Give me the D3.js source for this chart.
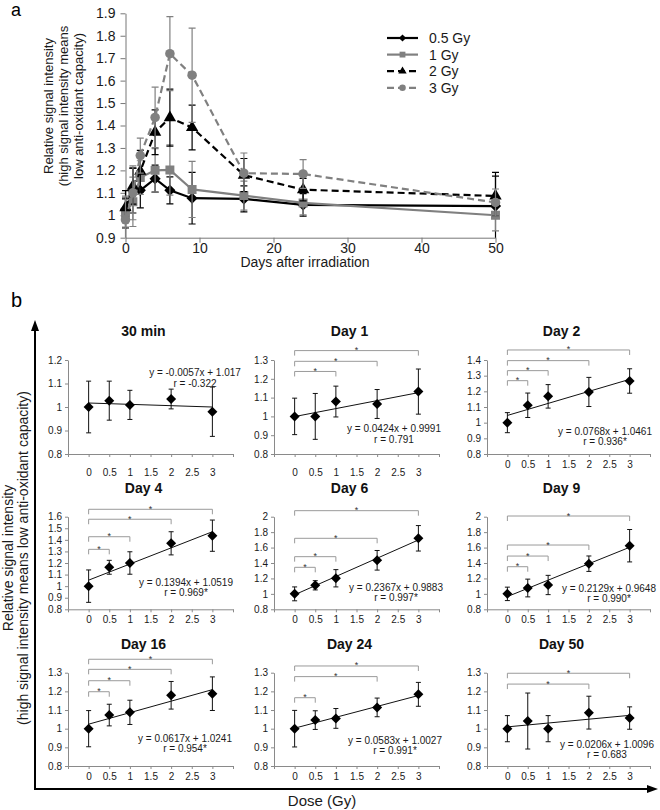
<!DOCTYPE html>
<html><head><meta charset="utf-8">
<script src="https://cdn.jsdelivr.net/npm/d3@7"></script>
<style>body{margin:0;background:#fff} svg{display:block}</style>
</head><body>
<svg id="c" width="660" height="810"></svg>
<script>
// ---------------- DATA ----------------
const timepoints = ["30 min","Day 1","Day 2","Day 4","Day 6","Day 9","Day 16","Day 24","Day 50"];
const daysAfter = [0,1,2,4,6,9,16,24,50];
const doses = [0,0.5,1,2,3];
const doseTickLabels = [0,0.5,1,1.5,2,2.5,3];
const seriesNames = ["0.5 Gy","1 Gy","2 Gy","3 Gy"];
// mean relative signal intensity [timepoint][dose]  (panel b)
const meanValues = [
  [1.0, 1.027, 1.009, 1.034, 0.98],
  [1.0, 1.0, 1.079, 1.066, 1.132],
  [1.0, 1.111, 1.168, 1.196, 1.266],
  [1.0, 1.163, 1.200, 1.370, 1.436],
  [1.0, 1.111, 1.202, 1.435, 1.72],
  [1.0, 1.076, 1.115, 1.391, 1.624],
  [1.0, 1.073, 1.0875, 1.179, 1.1875],
  [1.0, 1.046, 1.055, 1.114, 1.184],
  [1.0, 1.041, 1.0, 1.086, 1.057]
];
const errValues = [
  [0.11, 0.083, 0.062, 0.042, 0.105],
  [0.097, 0.122, 0.082, 0.077, 0.12],
  [0.064, 0.078, 0.075, 0.093, 0.078],
  [0.14, 0.06, 0.097, 0.10, 0.135],
  [0.09, 0.06, 0.112, 0.127, 0.165],
  [0.087, 0.115, 0.125, 0.10, 0.21],
  [0.097, 0.058, 0.065, 0.074, 0.09],
  [0.098, 0.05, 0.053, 0.05, 0.064],
  [0.07, 0.15, 0.07, 0.088, 0.06]
];
// panel a series (days 0,1,2,4,6,9,16,24,50)
const aMean05 = [1.027, 1.11, 1.111, 1.163, 1.111, 1.076, 1.073, 1.046, 1.041];
const aMean1  = [1.009, 1.06, 1.168, 1.200, 1.202, 1.115, 1.0875, 1.055, 1.0];
const aMean2  = [1.034, 1.13, 1.196, 1.370, 1.435, 1.391, 1.179, 1.114, 1.086];
const aMean3  = [0.98, 1.10, 1.266, 1.436, 1.72, 1.624, 1.1875, 1.184, 1.057];
const aErr05 = [0.083, 0.10, 0.078, 0.06, 0.06, 0.115, 0.058, 0.05, 0.15];
const aErr1  = [0.062, 0.11, 0.075, 0.097, 0.112, 0.125, 0.065, 0.053, 0.07];
const aErr2  = [0.042, 0.08, 0.093, 0.10, 0.127, 0.10, 0.074, 0.05, 0.088];
const aErr3  = [0.105, 0.12, 0.078, 0.135, 0.165, 0.21, 0.09, 0.064, 0.06];
const slopes = [-0.0057, 0.0424, 0.0768, 0.1394, 0.2367, 0.2129, 0.0617, 0.0583, 0.0206];
const intercepts = [1.017, 0.9991, 1.0461, 1.0519, 0.9883, 0.9648, 1.0241, 1.0027, 1.0096];
const rLabels = ["-0.322","0.791","0.936*","0.969*","0.997*","0.990*","0.954*","0.991*","0.683"];
// significance brackets [fromDose, toDose, level]
const brackets = [
  [],
  [[0,1,1.239],[0,2,1.293],[0,3,1.35]],
  [[0,0.5,1.268],[0,1,1.332],[0,2,1.396],[0,3,1.464]],
  [[0,0.5,1.318],[0,1,1.427],[0,2,1.578],[0,3,1.664]],
  [[0,0.5,1.344],[0,1,1.482],[0,2,1.72],[0,3,2.078]],
  [[0,0.5,1.352],[0,1,1.49],[0,2,1.633],[0,3,2.009]],
  [[0,0.5,1.198],[0,1,1.257],[0,2,1.318],[0,3,1.372]],
  [[0,0.5,1.166],[0,2,1.279],[0,3,1.336]],
  [[0,2,1.239],[0,3,1.297]]
];
const yMaxValues = [1.2,1.3,1.4,1.6,2,2,1.3,1.3,1.3];
const yStepValues = [0.1,0.1,0.1,0.1,0.2,0.2,0.1,0.1,0.1];
const aYTicks = [0.9,1,1.1,1.2,1.3,1.4,1.5,1.6,1.7,1.8,1.9];
const aXTicks = [0,10,20,30,40,50];

// ---------------- LAYOUT ----------------
const FONT = '"Liberation Sans", Arial, Helvetica, sans-serif';
const svg = d3.select("#c").attr("font-family", FONT);
const GRAY = "#808080";
const fmt = v => String(Math.round(v*10)/10);

function styleAxis(g, fs, col) {
  g.selectAll("path.domain").attr("stroke", col).attr("stroke-width", 1);
  g.selectAll(".tick line").attr("stroke", col);
  g.selectAll(".tick text").attr("fill", "#1a1a1a").attr("font-size", fs).attr("font-family", FONT);
}
function sym(shape, size) {
  const t = shape === "diamond" || shape === "square" ? d3.symbolSquare :
            shape === "triangle" ? d3.symbolTriangle : d3.symbolCircle;
  return d3.symbol().type(t).size(size)();
}

// ---------------- PANEL a ----------------
svg.append("text").attr("x", 11).attr("y", 16).attr("font-size", 18).text("a");
const ax = d3.scaleLinear().domain([0,50]).range([125.5,495.5]);
const ay = d3.scaleLinear().domain([0.9,1.9]).range([237.7,13.3]);
const gA = svg.append("g");
const gxA = gA.append("g").attr("transform", `translate(0,${ay(0.9)})`)
  .call(d3.axisBottom(ax).tickValues(aXTicks).tickSize(5).tickSizeOuter(0).tickPadding(0));
styleAxis(gxA, 14, "#777");
const gyA = gA.append("g").attr("transform", `translate(${ax(0)},0)`)
  .call(d3.axisLeft(ay).tickValues(aYTicks).tickFormat(fmt).tickSize(5).tickSizeOuter(0).tickPadding(5));
styleAxis(gyA, 14, "#777");
gA.append("text").attr("x", 305).attr("y", 267).attr("text-anchor","middle").attr("font-size",14)
  .attr("fill","#1a1a1a").text("Days after irradiation");
const aTitle = ["Relative signal intensity","(high signal intensity means","low anti-oxidant capacity)"];
aTitle.forEach((t,i) => {
  gA.append("text").attr("transform", `translate(${52.6+15*i},106) rotate(-90)`)
    .attr("text-anchor","middle").attr("font-size",13).attr("fill","#1a1a1a").text(t);
});
svg.append("clipPath").attr("id","clipA").append("rect")
  .attr("x", 110).attr("y", 0).attr("width", 400).attr("height", ay(0.9));
const seriesStyle = [
  {mean:aMean05, err:aErr05, color:"#000", dash:null, shape:"diamond", size:62, lsize:26},
  {mean:aMean1, err:aErr1, color:GRAY, dash:null, shape:"square", size:80, lsize:34},
  {mean:aMean2, err:aErr2, color:"#000", dash:"7,4", shape:"triangle", size:66, lsize:30},
  {mean:aMean3, err:aErr3, color:GRAY, dash:"7,4", shape:"circle", size:72, lsize:34}
];
const plotA = gA.append("g").attr("clip-path","url(#clipA)");
seriesNames.forEach((name, si) => {
  const st = seriesStyle[si];
  const pts = daysAfter.map((d,t) => ({x:d, y:st.mean[t], e:st.err[t]}));
  const g = plotA.append("g");
  pts.forEach(p => {
    g.append("line").attr("x1", ax(p.x)).attr("x2", ax(p.x)).attr("y1", ay(p.y-p.e)).attr("y2", ay(p.y+p.e))
      .attr("stroke", st.color).attr("stroke-width", 1.2);
    [p.y-p.e, p.y+p.e].forEach(v => g.append("line").attr("x1", ax(p.x)-3.5).attr("x2", ax(p.x)+3.5)
      .attr("y1", ay(v)).attr("y2", ay(v)).attr("stroke", st.color).attr("stroke-width", 1.2));
  });
  g.append("path").datum(pts).attr("fill","none").attr("stroke", st.color).attr("stroke-width", 2.2)
    .attr("stroke-dasharray", st.dash).attr("d", d3.line().x(p=>ax(p.x)).y(p=>ay(p.y)));
  pts.forEach(p => {
    g.append("path").attr("d", sym(st.shape, st.size))
      .attr("transform", `translate(${ax(p.x)},${ay(p.y)})${st.shape==="diamond"?" rotate(45)":""}`)
      .attr("fill", st.color);
  });
  // legend
  const ly = 38 + 16.6*si;
  gA.append("line").attr("x1",387).attr("x2",418).attr("y1",ly).attr("y2",ly)
    .attr("stroke", st.color).attr("stroke-width", 2.2).attr("stroke-dasharray", st.dash);
  gA.append("path").attr("d", sym(st.shape, st.lsize))
    .attr("transform", `translate(402.5,${ly})${st.shape==="diamond"?" rotate(45)":""}`).attr("fill", st.color);
  gA.append("text").attr("x",429).attr("y",ly+5).attr("font-size",14).attr("fill","#1a1a1a").text(name);
});

// ---------------- PANEL b ----------------
svg.append("text").attr("x", 11).attr("y", 307).attr("font-size", 20).text("b");
// big arrows
svg.append("line").attr("x1",35).attr("x2",35).attr("y1",789).attr("y2",328).attr("stroke","#000").attr("stroke-width",2);
svg.append("path").attr("d","M35,320 L31,331 L39,331 Z").attr("fill","#000");
svg.append("line").attr("x1",34).attr("x2",650).attr("y1",789).attr("y2",789).attr("stroke","#000").attr("stroke-width",2);
svg.append("path").attr("d","M658,789 L647,785 L647,793 Z").attr("fill","#000");
svg.append("text").attr("transform","translate(13,558) rotate(-90)").attr("text-anchor","middle")
  .attr("font-size",14).attr("fill","#1a1a1a").text("Relative signal intensity");
svg.append("text").attr("transform","translate(28,558) rotate(-90)").attr("text-anchor","middle")
  .attr("font-size",14).attr("fill","#1a1a1a").text("(high signal intensity means low anti-oxidant capacity)");
svg.append("text").attr("x",322).attr("y",806).attr("text-anchor","middle").attr("font-size",15)
  .attr("fill","#1a1a1a").text("Dose (Gy)");

const cols = [{x0:68,x1:233},{x0:274,x1:439},{x0:487,x1:650}];
const rows = [{top:360,bot:454},{top:516.7,bot:609.3},{top:672.7,bot:766}];
const eqPos = [[127,16],[120,72],[118,74.5],[118,69],[122,74],[122,75],[117,69],[121,71],[120,75]];
const xTickPts = d3.range(-0.5, 3.51, 0.5);

timepoints.forEach((tp, k) => {
  const c = cols[k % 3], r = rows[Math.floor(k / 3)];
  const x = d3.scaleLinear().domain([-0.5,3.5]).range([c.x0, c.x1]);
  const y = d3.scaleLinear().domain([0.8, yMaxValues[k]]).range([r.bot, r.top]);
  const g = svg.append("g");
  const pad = (k === 0 || k === 1) ? 12 : 4;
  const gx = g.append("g").attr("transform", `translate(0,${r.bot})`)
    .call(d3.axisBottom(x).tickValues(xTickPts).tickSize(3).tickSizeOuter(0).tickPadding(pad)
      .tickFormat(v => doseTickLabels.some(d => Math.abs(d - v) < 1e-9) ? String(+v.toFixed(1)) : ""));
  styleAxis(gx, 10, "#8a8a8a");
  const yt = d3.range(0.8, yMaxValues[k] + 1e-9, yStepValues[k]);
  const gy = g.append("g").attr("transform", `translate(${c.x0},0)`)
    .call(d3.axisLeft(y).tickValues(yt).tickFormat(fmt).tickSize(3).tickSizeOuter(0).tickPadding(3));
  styleAxis(gy, 10, "#8a8a8a");
  // title
  g.append("text").attr("x", (c.x0 + c.x1)/2 - 7).attr("y", r.top - 24).attr("text-anchor","middle")
    .attr("font-size",14).attr("font-weight","bold").attr("fill","#111").text(tp);
  // brackets
  brackets[k].forEach(b => {
    const x1 = x(b[0]), x2 = x(b[1]), yy = y(b[2]);
    g.append("path").attr("d", `M${x1},${yy+5} V${yy} H${x2} V${yy+5}`)
      .attr("fill","none").attr("stroke","#9a9a9a").attr("stroke-width",1);
    g.append("text").attr("x",(x1+x2)/2).attr("y",yy+2.5).attr("text-anchor","middle")
      .attr("font-size",9).attr("fill","#333").text("*");
  });
  // trend line
  g.append("line").attr("x1", x(0)).attr("x2", x(3))
    .attr("y1", y(intercepts[k])).attr("y2", y(intercepts[k] + slopes[k]*3))
    .attr("stroke","#111").attr("stroke-width",1);
  // error bars and points
  doses.forEach((d, i) => {
    const m = meanValues[k][i], e = errValues[k][i];
    g.append("line").attr("x1", x(d)).attr("x2", x(d)).attr("y1", y(m-e)).attr("y2", y(m+e))
      .attr("stroke","#111").attr("stroke-width",1);
    [m-e, m+e].forEach(v => g.append("line").attr("x1", x(d)-2.5).attr("x2", x(d)+2.5)
      .attr("y1", y(v)).attr("y2", y(v)).attr("stroke","#111").attr("stroke-width",1));
    g.append("path").attr("d", sym("diamond", 50))
      .attr("transform", `translate(${x(d)},${y(m)}) rotate(45)`).attr("fill","#000");
  });
  // equation
  const s = slopes[k];
  const eq = "y = " + s + "x + " + intercepts[k];
  const ex = c.x0 + eqPos[k][0], ey = r.top + eqPos[k][1];
  g.append("text").attr("x", ex).attr("y", ey).attr("text-anchor","middle").attr("font-size",10)
    .attr("fill","#1a1a1a").text(eq);
  g.append("text").attr("x", ex).attr("y", ey + 10.7).attr("text-anchor","middle").attr("font-size",10)
    .attr("fill","#1a1a1a").text("r = " + rLabels[k]);
});
</script>
</body></html>
